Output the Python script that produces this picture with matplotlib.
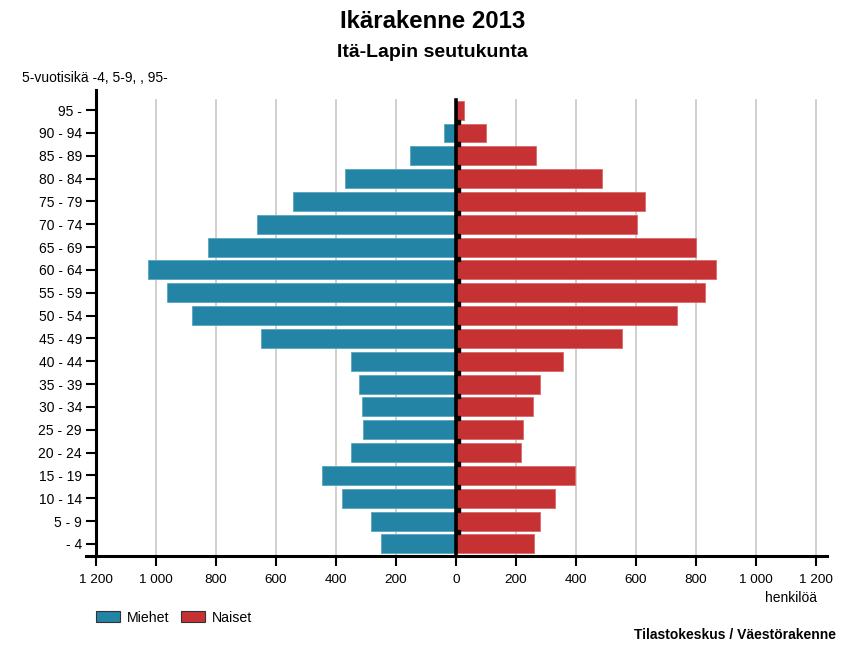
import numpy as np
import matplotlib.pyplot as plt
from matplotlib.patches import Patch

plt.rcParams['font.family'] = ['Liberation Sans', 'DejaVu Sans']

# ikäryhmät alhaalta ylös
ryhmat = ['- 4', '5 - 9', '10 - 14', '15 - 19', '20 - 24', '25 - 29', '30 - 34', '35 - 39',
          '40 - 44', '45 - 49', '50 - 54', '55 - 59', '60 - 64', '65 - 69', '70 - 74',
          '75 - 79', '80 - 84', '85 - 89', '90 - 94', '95 -']
miehet = [251, 283, 378, 446, 348, 308, 313, 323, 350, 650, 880, 963, 1026, 826, 663,
          542, 370, 154, 40, 0]
naiset = [259, 280, 332, 396, 218, 223, 258, 280, 358, 554, 738, 830, 866, 802, 604,
          632, 486, 266, 101, 26]
xtiks = [-1200, -1000, -800, -600, -400, -200, 0, 200, 400, 600, 800, 1000, 1200]
xlabels = ['1 200', '1 000', '800', '600', '400', '200', '0', '200', '400', '600', '800', '1 000', '1 200']

sininen = '#2484a5'
punainen = '#c63233'

fig = plt.figure(figsize=(8.65, 6.48), dpi=100)
ax = fig.add_axes([0.0994, 0.142, 0.8566, 0.719])

y = np.arange(len(ryhmat))
ax.set_xlim(-1233, 1237)
ax.set_ylim(-0.53, 19.88)

for xv in xtiks:
    if xv != 0:
        ax.plot([xv, xv], [-0.53, 19.45], color='#c8c8c8', lw=1.2, zorder=0)

ax.barh(y, [-m for m in miehet], height=0.83, color=sininen, edgecolor='#5aa6c0', lw=0.6, zorder=2)
ax.barh(y, naiset, height=0.83, color=punainen, edgecolor='#d86a6a', lw=0.6, zorder=2)

ax.plot([0, 0], [-0.53, 19.45], color='black', lw=2.6, zorder=3)
ax.plot(np.full(19, 8), y[:-1] + 0.5, ls='none', marker='s', ms=2.5, color='black', zorder=3)

for s in ['top', 'right']:
    ax.spines[s].set_visible(False)
ax.spines['left'].set_position(('data', -1200))
ax.spines['left'].set_linewidth(2.2)
ax.spines['bottom'].set_linewidth(2.2)

ax.set_yticks(y)
ax.set_yticklabels(ryhmat, fontsize=10)
ax.set_xticks(xtiks)
ax.set_xticklabels(xlabels, fontsize=9.7)
ax.tick_params(axis='y', length=7, width=1.5, pad=3)
ax.tick_params(axis='x', length=7, width=1.5, pad=6)

fig.text(0.5, 0.967, 'Ikärakenne 2013', ha='center', va='center', fontsize=17.3, fontweight='bold')
fig.text(0.5, 0.919, 'Itä-Lapin seutukunta', ha='center', va='center', fontsize=14, fontweight='bold')
fig.text(0.025, 0.879, '5-vuotisikä -4, 5-9, , 95-', ha='left', va='center', fontsize=10)
fig.text(0.944, 0.077, 'henkilöä', ha='right', va='center', fontsize=10)
fig.text(0.966, 0.020, 'Tilastokeskus / Väestörakenne', ha='right', va='center', fontsize=10, fontweight='bold')

kahvat = [Patch(facecolor=sininen, edgecolor='#333333', lw=0.8, label='Miehet'),
          Patch(facecolor=punainen, edgecolor='#333333', lw=0.8, label='Naiset')]
fig.legend(handles=kahvat, loc='center left', bbox_to_anchor=(0.111, 0.047), ncol=2, frameon=False,
           fontsize=10.2, handlelength=1.7, handleheight=0.75, handletextpad=0.45, columnspacing=0.85,
           borderpad=0, borderaxespad=0)

fig.savefig('out.png', dpi=100)
